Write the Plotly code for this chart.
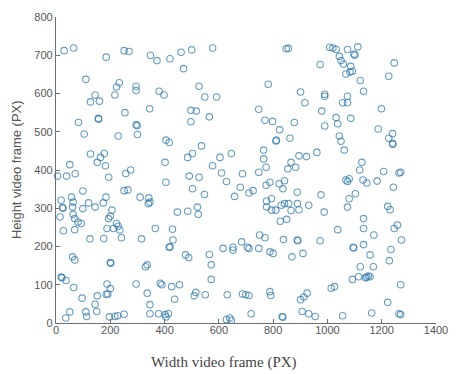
import plotly.graph_objects as go

# Detected object positions inside the video frame (pixels)
width_px = [
    30, 65, 185, 251, 269, 110, 233, 223, 217, 144, 127, 160, 254, 156, 157, 83, 104, 229,
    127, 164, 178, 152, 182, 51, 6, 39, 71, 194, 257, 275, 251, 265, 99, 19, 57, 63, 61, 24,
    26, 99, 120, 144, 174, 184, 15, 63, 69, 81, 93, 206, 200, 194, 223, 212, 235, 229, 188,
    27, 69, 241, 125, 176, 61, 69, 200, 202, 19, 22, 37, 65, 96, 188, 191, 200, 185, 152, 144,
    51, 36, 110, 113, 150, 197, 217, 227, 251,
    348, 372, 420, 461, 500, 470, 295, 295, 380, 398, 527, 548, 345, 497, 517, 497, 295, 299,
    300, 405, 417, 536, 485, 503, 402, 491, 527, 405, 503, 547, 310, 342, 346, 340, 447, 485,
    521, 524, 366, 429, 315, 431, 420, 417, 477, 489, 330, 336, 295, 384, 390, 426, 455, 515,
    509, 550, 336, 437, 346, 346, 378, 402, 414, 405,
    577, 848, 856, 782, 592, 565, 747, 770, 798, 824, 810, 812, 765, 765, 774, 604, 646, 577,
    610, 628, 687, 747, 679, 658, 711, 726, 774, 788, 822, 836, 842, 776, 794, 776, 794, 810,
    830, 842, 826, 750, 770, 838, 616, 652, 652, 684, 705, 711, 747, 788, 800, 565, 572, 572,
    631, 687, 699, 711, 788, 791, 628, 640, 646, 719, 833, 836,
    1008, 1020, 1032, 1074, 1112, 1044, 1050, 1059, 1098, 1101, 973, 1086, 1083, 1092, 1068,
    1121, 1133, 901, 990, 990, 917, 1074, 1056, 1074, 979, 1032, 1038, 1086, 878, 990, 1044,
    1050, 1062, 862, 961, 895, 923, 866, 854, 883, 1127, 1119, 1068, 1074, 1080, 1131, 889,
    976, 1103, 1080, 1074, 857, 889, 866, 895, 931, 988, 850, 1133, 1133, 1038, 889, 891, 973,
    1095, 1097, 869, 910, 1121, 1115, 1092, 1014, 1026, 925, 913, 901, 907, 931, 955, 1056,
    1246, 1226, 1199, 1187, 1226, 1240, 1240, 1241, 1145, 1183, 1207, 1264, 1270, 1243, 1222,
    1231, 1133, 1171, 1258, 1246, 1273, 1234, 1228, 1157, 1169, 1157, 1145, 1151, 1140, 1270,
    1222, 1163, 1264, 1270,
]

height_px = [
    712, 719, 695, 712, 710, 637, 628, 617, 596, 596, 578, 580, 550, 535, 533, 524, 494, 489,
    442, 433, 443, 420, 411, 414, 384, 384, 390, 381, 391, 400, 346, 348, 345, 321, 329, 316,
    303, 302, 300, 299, 314, 303, 314, 329, 277, 284, 273, 264, 260, 295, 279, 273, 260, 247,
    243, 253, 247, 241, 244, 223, 220, 221, 173, 165, 158, 156, 120, 118, 111, 93, 65, 102, 76,
    90, 75, 71, 49, 29, 13, 29, 17, 30, 16, 17, 19, 23,
    700, 686, 691, 708, 714, 665, 619, 608, 606, 596, 619, 591, 560, 556, 554, 526, 518, 516,
    493, 478, 472, 463, 433, 443, 420, 384, 381, 368, 351, 336, 329, 327, 316, 312, 290, 292,
    303, 284, 247, 245, 220, 217, 199, 198, 178, 171, 147, 152, 102, 104, 100, 95, 100, 80,
    71, 74, 78, 62, 48, 24, 24, 22, 24, 16,
    719, 717, 718, 624, 591, 539, 559, 530, 527, 505, 476, 478, 452, 429, 407, 433, 443, 411,
    392, 370, 390, 394, 355, 331, 340, 346, 360, 368, 364, 351, 372, 319, 325, 303, 295, 295,
    308, 312, 266, 230, 223, 218, 195, 198, 191, 212, 198, 195, 195, 186, 182, 179, 152, 114,
    74, 76, 74, 72, 82, 72, 9, 13, 7, 24, 17, 15,
    721, 719, 715, 715, 722, 697, 686, 677, 703, 700, 676, 671, 656, 658, 651,
    634, 606, 604, 598, 593, 576, 593, 576, 576, 554, 537, 521, 535, 524, 515, 489,
    475, 452, 483, 446, 437, 435, 420, 403, 407, 420, 400, 374, 370, 377, 374, 342,
    335, 338, 325, 303, 312, 312, 294, 296, 308, 290, 271, 273, 247, 244, 217, 215, 215,
    198, 196, 173, 182, 147, 121, 114, 91, 95, 78, 68, 61, 30, 24, 17, 19,
    680, 645, 560, 507, 483, 495, 470, 467, 366, 371, 396, 392, 394, 355, 305,
    296, 205, 230, 256, 247, 217, 192, 163, 178, 147, 121, 120, 123, 118, 100,
    54, 26, 24, 22,
]

x_ticks = [0, 200, 400, 600, 800, 1000, 1200, 1400]
y_ticks = [0, 100, 200, 300, 400, 500, 600, 700, 800]

fig = go.Figure(
    go.Scatter(
        x=width_px,
        y=height_px,
        mode="markers",
        cliponaxis=False,
        marker=dict(
            symbol="circle-open",
            size=6.5,
            color="rgba(40,115,165,0.7)",
            line=dict(width=1.1),
        ),
        hoverinfo="x+y",
    )
)

axis_common = dict(
    showgrid=False,
    zeroline=False,
    showline=True,
    linecolor="#6f6f6f",
    linewidth=1.3,
    ticks="inside",
    ticklen=4,
    tickwidth=1.1,
    tickcolor="#6f6f6f",
    tickfont=dict(family="Liberation Sans, Arial, sans-serif", size=11, color="#555555"),
)

fig.update_xaxes(range=[0, 1400], tickvals=x_ticks, ticklabelstandoff=-3,
                 ticklabeloverflow="allow", **axis_common)
fig.update_yaxes(range=[0, 800], tickvals=y_ticks, **axis_common)

fig.update_layout(
    width=459,
    height=374,
    margin=dict(l=56, r=11, t=15, b=51),
    paper_bgcolor="white",
    plot_bgcolor="white",
    showlegend=False,
    annotations=[
        dict(
            text="Width video frame (PX)",
            xref="paper", yref="paper",
            x=0.442, y=-0.128,
            xanchor="center", yanchor="middle",
            showarrow=False,
            font=dict(family="Liberation Serif, Times New Roman, serif", size=15, color="#444444"),
        ),
        dict(
            text="Height video frame (PX)",
            xref="paper", yref="paper",
            x=-0.105, y=0.5,
            xanchor="center", yanchor="middle",
            textangle=-90,
            showarrow=False,
            font=dict(family="Liberation Sans, Arial, sans-serif", size=13, color="#555555"),
        ),
    ],
)

fig.write_html("out.html")
